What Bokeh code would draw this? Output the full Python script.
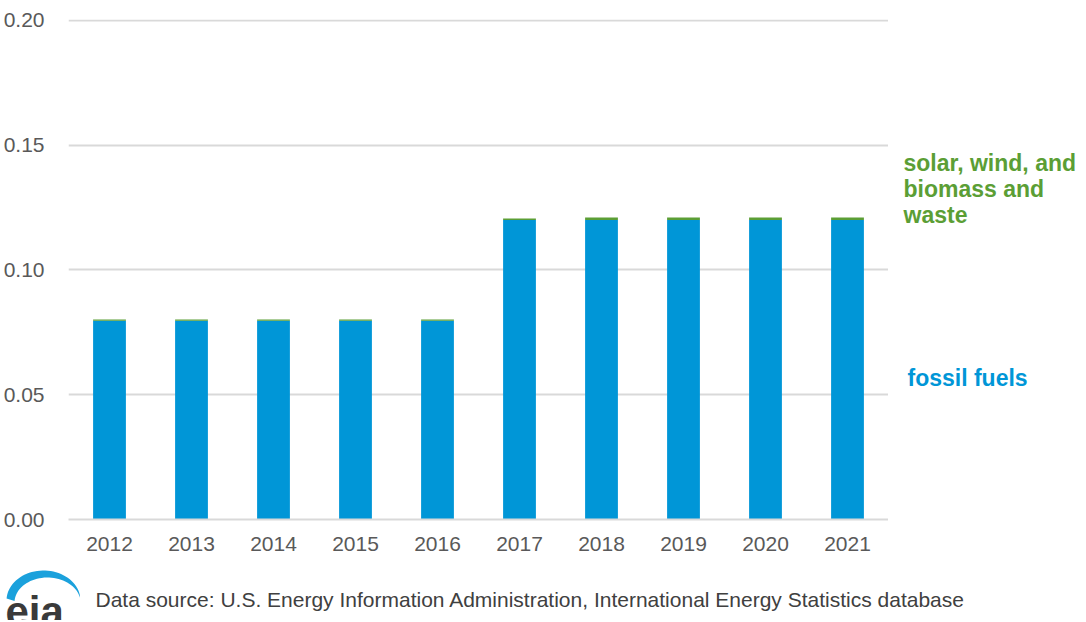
import numpy as np
from bokeh.plotting import figure
from bokeh.layouts import column, row
from bokeh.models import ColumnDataSource, FixedTicker, CustomJSTickFormatter
from bokeh.core.properties import value
from bokeh.embed import file_html
from bokeh.resources import INLINE

years = ["2012", "2013", "2014", "2015", "2016", "2017", "2018", "2019", "2020", "2021"]
fossil = [0.0797, 0.0797, 0.0797, 0.0797, 0.0797, 0.1200, 0.1200, 0.1200, 0.1200, 0.1200]
renew = [0.0005, 0.0005, 0.0005, 0.0005, 0.0005, 0.0006, 0.0010, 0.0010, 0.0010, 0.0010]
y_ticks = [0.0, 0.05, 0.10, 0.15, 0.20]
series_labels = ["fossil fuels", "solar, wind, and", "biomass and", "waste"]
label_y = [0.0566, 0.1430, 0.1323, 0.1219]
label_x = [19, 15, 15, 15]
source_text = "Data source: U.S. Energy Information Administration, International Energy Statistics database"

BLUE = "#0096D7"
GREEN = "#5B9E35"
GRAY = "#595959"
FONT = "Liberation Sans"

MAIN_W, MAIN_H = 888, 562
RIGHT_W = 196
FOOT_H = 58
TOP_B, BOT_B = 19, 43

p = figure(x_range=years, y_range=(0, 0.2004), width=MAIN_W, height=MAIN_H, title=None,
           output_backend="svg", toolbar_location=None,
           min_border_left=68, min_border_right=0, min_border_top=TOP_B, min_border_bottom=BOT_B)
p.outline_line_color = None

src = ColumnDataSource(dict(year=years, fossil=fossil, renew=renew))
p.vbar_stack(["fossil", "renew"], x="year", width=0.4, source=src,
             color=[BLUE, GREEN], line_color=None)

p.xgrid.grid_line_color = None
p.ygrid.grid_line_color = "#D9D9D9"
p.ygrid.grid_line_width = 2
p.yaxis.ticker = FixedTicker(ticks=y_ticks)
p.yaxis.formatter = CustomJSTickFormatter(code="return tick.toFixed(2);")
p.yaxis.axis_line_color = None
p.yaxis.major_tick_line_color = None
p.yaxis.minor_tick_line_color = None
p.yaxis.major_label_standoff = 18
p.yaxis.major_label_text_font = FONT
p.yaxis.major_label_text_font_size = "21px"
p.yaxis.major_label_text_color = GRAY

p.xaxis.axis_line_color = "#D9D9D9"
p.xaxis.axis_line_width = 2
p.xaxis.major_tick_line_color = None
p.xaxis.minor_tick_line_color = None
p.xaxis.major_label_standoff = 11
p.xaxis.major_label_text_font = FONT
p.xaxis.major_label_text_font_size = "21px"
p.xaxis.major_label_text_color = GRAY

# right-hand series labels, sharing the y scale
r = figure(x_range=(0, RIGHT_W), y_range=p.y_range, width=RIGHT_W, height=MAIN_H, title=None,
           output_backend="svg", toolbar_location=None,
           min_border_left=0, min_border_right=0, min_border_top=TOP_B, min_border_bottom=BOT_B)
r.axis.visible = False
r.grid.visible = False
r.outline_line_color = None
lsrc = ColumnDataSource(dict(x=label_x, y=label_y, t=series_labels,
                             c=[BLUE, GREEN, GREEN, GREEN]))
r.text(x="x", y="y", text="t", source=lsrc, text_color="c",
       text_font=value(FONT), text_font_style="bold", text_font_size="23px",
       text_baseline="middle", text_align="left")

# footer with logo and source
TOTAL_W = MAIN_W + RIGHT_W
f = figure(x_range=(0, TOTAL_W), y_range=(0, FOOT_H), width=TOTAL_W, height=FOOT_H, title=None,
           output_backend="svg", toolbar_location=None,
           min_border_left=0, min_border_right=0, min_border_top=0, min_border_bottom=0)
f.axis.visible = False
f.grid.visible = False
f.outline_line_color = None
f.text(x=[95], y=[21], text=[source_text], text_font=value(FONT), text_font_size="21px",
       text_color="#404040", text_baseline="alphabetic")
f.text(x=[5], y=[9], text=["eia"], text_font=value(FONT), text_font_style="bold",
       text_font_size="42px", text_color="#3A3A3A", text_baseline="alphabetic")
t = np.linspace(np.pi * 0.98, np.pi * 0.06, 40)
ox = 43 + 37 * np.cos(t); oy = 20 + 30 * np.sin(t)
t2 = t[::-1]
ix = 47 + 33 * np.cos(t2); iy = 18 + 25 * np.sin(t2)
f.patch(np.concatenate([ox, ix]), np.concatenate([oy, iy]), fill_color="#1BA1DC", line_color=None)

layout = column(row(p, r), f)
open("out.html", "w").write(file_html(layout, INLINE))
